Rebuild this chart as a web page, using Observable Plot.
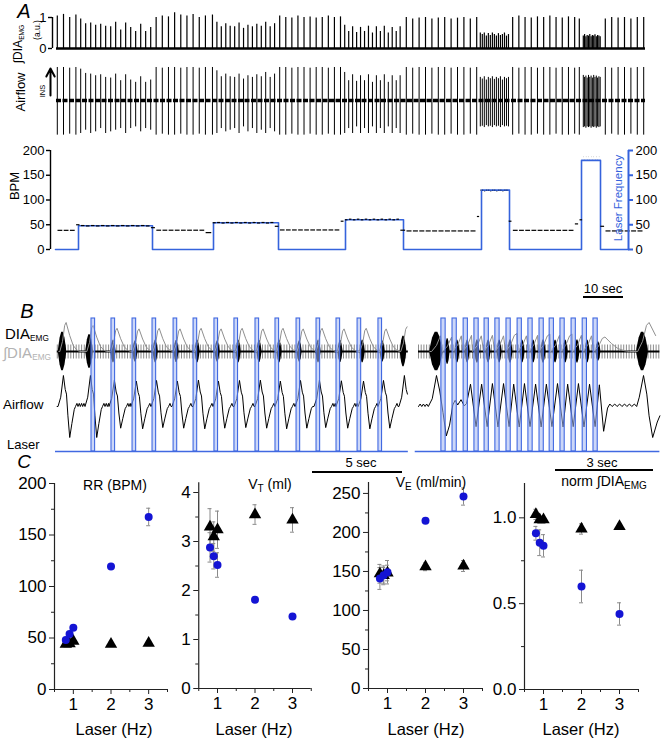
<!DOCTYPE html>
<html>
<head>
<meta charset="utf-8">
<script src="https://cdn.jsdelivr.net/npm/d3@7"></script>
<script src="https://cdn.jsdelivr.net/npm/@observablehq/plot@0.6"></script>
<style>
html,body{margin:0;padding:0;background:#fff;}
#fig{position:relative;width:662px;height:740px;overflow:hidden;background:#fff;font-family:'Liberation Sans',Arial,Helvetica,sans-serif;}
#fig sub{vertical-align:baseline;position:relative;top:0.3em;font-size:0.55em;}
</style>
</head>
<body>
<div id="fig"></div>
<script>
// ================= DATA =================
// ---- Panel A: breath-by-breath events (time in s) ----
const breathTimesA = [
  0.45, 2.0, 3.55, 5.1,
  6.3, 7.54, 8.8, 10.04, 11.3, 12.54, 13.8, 15.04, 16.3, 17.54, 18.8, 20.04, 21.3, 22.54, 23.8,
  25.16, 26.7, 28.24, 29.78, 31.32, 32.86, 34.4, 35.94, 37.48, 39.24,
  40.35, 41.45, 42.57, 43.67, 44.79, 45.89, 47.01, 48.11, 49.23, 50.33, 51.45, 52.55, 53.67, 54.77,
  56.05, 57.57, 59.09, 60.61, 62.13, 63.65, 65.17, 66.69, 68.21, 69.73, 71.25,
  72.3, 73.3, 74.28, 75.28, 76.26, 77.26, 78.24, 79.24, 80.22, 81.22, 82.2, 83.2, 84.18, 85.18, 86.16,
  87.7, 89.3, 90.9, 92.5, 94.1, 95.7, 97.3, 98.9, 100.5, 102.1, 103.7, 105.3,
  106.2, 106.7, 107.2, 107.71, 108.21, 108.71, 109.22, 109.72, 110.22, 110.73, 111.23, 111.73, 112.24, 112.74, 113.24,
  114.29, 115.84, 117.39, 118.94, 120.49, 122.04, 123.59, 125.14, 126.69, 128.24, 129.79, 130.95,
  131.95, 132.27, 132.6, 132.92, 133.25, 133.57, 133.9, 134.22, 134.55, 134.87, 135.2, 135.52, 135.85, 136.17,
  137.45, 139.05, 140.65, 142.25, 143.85, 145.45, 147.05
];
const emgPeakA = [
  1.05, 1.1, 1.0, 1.08,
  0.95, 0.8, 0.82, 0.75, 0.78, 0.72, 0.7, 0.85, 0.6, 0.82, 0.68, 0.55, 0.78, 0.55, 0.68,
  1.0, 1.05, 1.02, 1.15, 1.08, 1.05, 1.1, 1.0, 1.05, 1.08,
  0.85, 0.7, 0.8, 0.72, 0.7, 0.82, 0.65, 0.75, 0.7, 0.78, 0.72, 0.85, 0.7, 0.8,
  1.05, 1.0, 0.98, 1.05, 1.0, 1.02, 0.98, 1.0, 1.05, 1.0, 1.02,
  0.75, 0.55, 0.7, 0.52, 0.68, 0.55, 0.72, 0.5, 0.7, 0.55, 0.72, 0.5, 0.68, 0.55, 0.7,
  1.0, 0.95, 0.98, 1.0, 0.95, 0.98, 1.0, 0.95, 0.98, 1.0, 0.95, 1.0,
  0.5, 0.45, 0.5, 0.4, 0.48, 0.42, 0.5, 0.45, 0.4, 0.48, 0.42, 0.45, 0.5, 0.4, 0.45,
  1.0, 1.05, 1.0, 0.98, 1.02, 1.0, 1.05, 1.0, 0.98, 1.02, 1.0, 0.95,
  0.4, 0.45, 0.38, 0.42, 0.4, 0.45, 0.38, 0.42, 0.4, 0.44, 0.38, 0.42, 0.4, 0.38,
  0.95, 1.0, 0.98, 1.0, 0.95, 1.0, 1.0
];
const flowInA = [
  1.0, 1.0, 0.98, 1.0,
  0.95, 0.82, 0.8, 0.75, 0.78, 0.7, 0.68, 0.8, 0.6, 0.78, 0.62, 0.55, 0.72, 0.55, 0.62,
  1.0, 0.98, 1.0, 1.0, 0.98, 1.0, 1.0, 0.98, 1.0, 1.0,
  0.9, 0.72, 0.8, 0.72, 0.7, 0.8, 0.65, 0.75, 0.7, 0.78, 0.72, 0.85, 0.7, 0.8,
  1.0, 1.0, 0.98, 1.0, 1.0, 0.98, 1.0, 1.0, 0.98, 1.0, 1.0,
  0.85, 0.6, 0.78, 0.58, 0.75, 0.6, 0.78, 0.55, 0.75, 0.6, 0.78, 0.55, 0.75, 0.6, 0.75,
  1.0, 0.98, 1.0, 1.0, 0.98, 1.0, 1.0, 0.98, 1.0, 1.0, 0.98, 1.0,
  0.7, 0.65, 0.72, 0.62, 0.7, 0.66, 0.72, 0.64, 0.7, 0.66, 0.72, 0.62, 0.7, 0.66, 0.7,
  1.0, 0.98, 1.0, 1.0, 0.98, 1.0, 1.0, 0.98, 1.0, 1.0, 0.98, 1.0,
  0.76, 0.7, 0.74, 0.68, 0.76, 0.7, 0.74, 0.68, 0.76, 0.7, 0.74, 0.68, 0.72, 0.7,
  1.0, 0.98, 1.0, 1.0, 0.98, 1.0, 1.0
];
const flowOutA = [
  -1.05, -1.05, -1.02, -1.05,
  -1.0, -0.9, -1.0, -0.95, -0.85, -1.0, -0.95, -0.9, -0.85, -1.0, -0.85, -0.8, -0.95, -0.85, -0.9,
  -1.05, -1.02, -1.05, -1.05, -1.02, -1.05, -1.05, -1.02, -1.05, -1.05,
  -1.0, -0.85, -0.95, -0.9, -0.85, -1.0, -0.8, -0.95, -0.85, -1.0, -0.9, -1.0, -0.85, -0.95,
  -1.05, -1.05, -1.02, -1.05, -1.05, -1.02, -1.05, -1.05, -1.02, -1.05, -1.05,
  -1.0, -0.85, -1.0, -0.8, -1.0, -0.85, -1.0, -0.8, -1.0, -0.85, -1.0, -0.8, -1.0, -0.85, -1.0,
  -1.05, -1.02, -1.05, -1.05, -1.02, -1.05, -1.05, -1.02, -1.05, -1.05, -1.02, -1.05,
  -0.8, -0.78, -0.82, -0.76, -0.8, -0.78, -0.82, -0.76, -0.8, -0.78, -0.82, -0.76, -0.8, -0.78, -0.8,
  -1.05, -1.02, -1.05, -1.05, -1.02, -1.05, -1.05, -1.02, -1.05, -1.05, -1.02, -1.05,
  -0.82, -0.8, -0.84, -0.8, -0.82, -0.8, -0.84, -0.8, -0.82, -0.8, -0.84, -0.8, -0.82, -0.8,
  -1.05, -1.02, -1.05, -1.05, -1.02, -1.05, -1.05
];
// laser stimulation epochs: [start s, end s, Hz]
const laserEpochsA = [[5.75, 24.25, 0.8], [39.5, 55.75, 0.9], [72.5, 87, 1], [106.5, 113.5, 2], [131.5, 136.25, 3]];
const recordA = [0.25, 147.5];       // trace start/end (s)
const laserTraceEndA = 143.25;        // where blue trace meets the right axis
const bpmTicks = [0, 50, 100, 150, 200];
const emgScaleTicks = [0, 1];

// ---- Panel B ----
const pulsesL = [2.0, 3.11, 4.28, 5.39, 6.56, 7.67, 8.83, 9.94, 11.11, 12.22, 13.39, 14.5, 15.61, 16.78, 17.94];
const burstsL = [0.39, 1.89, 3.22, 4.44, 5.56, 6.72, 7.89, 9.0, 10.17, 11.33, 12.44, 13.56, 14.61, 15.83, 17.06, 18.17, 19.33];
const burstAmpL = [1.2, 1.05, 0.7, 0.65, 0.7, 0.68, 0.7, 0.65, 0.7, 0.68, 0.7, 0.65, 0.7, 0.68, 0.7, 0.65, 0.95];
const burstWL = [0.45, 0.4, 0.28, 0.28, 0.28, 0.28, 0.28, 0.28, 0.28, 0.28, 0.28, 0.28, 0.28, 0.28, 0.28, 0.28, 0.35];
const integAmpL = [1.0, 0.9, 0.8, 0.78, 0.8, 0.78, 0.8, 0.78, 0.8, 0.78, 0.8, 0.78, 0.8, 0.78, 0.8, 0.78, 0.85];
const flowUpL = [1.0, 1.0, 0.85, 0.82, 0.84, 0.82, 0.85, 0.82, 0.84, 0.85, 0.82, 0.84, 0.85, 0.83, 0.82, 0.84, 1.0];
const flowDnL = [1.0, 1.0, 0.7, 0.72, 0.68, 0.7, 0.72, 0.7, 0.68, 0.7, 0.72, 0.7, 0.68, 0.7, 0.72, 0.7, 0.95];
const recordL = [0.1, 19.6];

const pulsesR = [0.70, 1.04, 1.38, 1.71, 2.02, 2.35, 2.69, 3.03, 3.36, 3.70, 4.01, 4.34, 4.68, 5.02, 5.35];
const burstsR = [0.55, 0.89, 1.19, 1.5, 1.8, 2.14, 2.48, 2.81, 3.18, 3.52, 3.82, 4.19, 4.5, 4.86, 5.17, 5.5, 6.85];
const burstAmpR = [1.2, 0.8, 0.7, 0.7, 0.72, 0.7, 0.7, 0.72, 0.7, 0.7, 0.72, 0.7, 0.7, 0.72, 0.7, 0.6, 1.2];
const burstWR = [0.4, 0.15, 0.15, 0.15, 0.15, 0.15, 0.15, 0.15, 0.15, 0.15, 0.15, 0.15, 0.15, 0.15, 0.15, 0.15, 0.35];
const integAmpR = [0.6, 0.55, 0.6, 0.62, 0.6, 0.62, 0.6, 0.62, 0.6, 0.62, 0.6, 0.62, 0.6, 0.62, 0.6, 0.5, 1.0];
const flowR = [
  [0, 0], [0.05, 0.08], [0.1, 0], [0.15, 0.08], [0.2, 0], [0.25, 0.08], [0.3, 0],
  [0.42, 0.25], [0.55, 1.0], [0.65, 0.5], [0.75, -0.2], [0.85, -0.95], [0.95, -0.6], [1.05, 0.05],
  [1.12, 0.2], [1.2, 0.05], [1.3, 0.22], [1.4, 0.02], [1.47, 0.1],
  [1.59, 0.72], [1.76, -0.65], [1.93, 0.72], [2.1, -0.65], [2.26, 0.74], [2.43, -0.66], [2.6, 0.74],
  [2.77, -0.65], [2.91, 0.72], [3.08, -0.66], [3.24, 0.74], [3.41, -0.65], [3.58, 0.72], [3.75, -0.66],
  [3.91, 0.72], [4.08, -0.65], [4.25, 0.74], [4.42, -0.66], [4.56, 0.72], [4.73, -0.65], [4.89, 0.74],
  [5.06, -0.66], [5.23, 0.72], [5.4, -0.65], [5.53, 0.7], [5.66, -0.8], [5.78, -0.05],
  [5.85, 0.08], [5.92, 0], [6.0, 0.08], [6.07, 0], [6.15, 0.08], [6.22, 0], [6.3, 0.08], [6.37, 0],
  [6.45, 0.08], [6.52, 0], [6.6, 0.08], [6.67, 0],
  [6.75, 0.3], [6.88, 1.0], [6.98, 0.4], [7.05, -0.3], [7.16, -1.0], [7.3, -0.5], [7.38, -0.3]
];
const recordR = [0.0, 7.38];

// waveform shapes (time offset s, normalized value)
const flowShape = [[-0.25, 0], [-0.1, 0.3], [0.05, 1.0], [0.15, 0.55], [0.22, 0.4], [0.3, -0.3], [0.4, -1.0], [0.52, -0.55], [0.65, -0.1], [0.72, 0]];
const rippleShape = [[0.8, 0.1], [0.86, 0], [0.93, 0.1], [0.99, 0], [1.06, 0.1], [1.12, 0], [1.19, 0.1], [1.25, 0], [1.32, 0.1], [1.38, 0], [1.45, 0.1], [1.51, 0], [1.58, 0.1], [1.64, 0]];
const integShape = [[-0.15, 0], [0.0, 0.35], [0.12, 0.9], [0.2, 1.0], [0.4, 0.55], [0.6, 0.2], [0.8, 0.05], [0.95, 0]];
const burstEnv = [[-0.5, 0.1], [-0.3, 0.7], [-0.1, 1], [0.1, 1], [0.3, 0.7], [0.5, 0.1]];

// ---- Panel C ----
const laserHz = [0.8, 0.9, 1, 2, 3];
const rrCtrl = [44, 44.5, 47, 44, 45],           rrCtrlErr = [2, 2, 2.5, 2, 2.5];
const rrLaser = [48, 54, 60, 119.5, 167.5],      rrLaserErr = [2, 2, 2, 1.5, 8.5];
const vtCtrl = [3.3, 3.1, 3.24, 3.55, 3.44],     vtCtrlErr = [0.37, 0.3, 0.38, 0.2, 0.25];
const vtLaser = [2.88, 2.7, 2.52, 1.81, 1.47],   vtLaserErr = [0.3, 0.26, 0.25, 0.05, 0.04];
const veCtrl = [147, 145, 148, 156, 157],        veCtrlErr = [12, 10, 10, 5, 7];
const veLaser = [141, 145, 149, 215, 246],       veLaserErr = [14, 12, 15, 3, 11];
const dnCtrl = [1.02, 0.99, 0.99, 0.935, 0.95],  dnCtrlErr = [0.03, 0.02, 0.02, 0.03, 0.015];
const dnLaser = [0.91, 0.855, 0.837, 0.60, 0.44], dnLaserErr = [0.04, 0.075, 0.065, 0.095, 0.065];
const xTicksC = [1, 2, 3], xMinorC = [0.5, 1.5, 2.5, 3.5];

// ================= STYLE =================
const FONT = "'Liberation Sans', Arial, Helvetica, sans-serif";
const BLUE_A = "#3563dc", BLUE_B = "#4169e1", FILL_B = "#a3b6f2", DOT_BLUE = "#1414d4", ERR = "#8a8a8a", AXIS = "#222";
const CH = {laserBase: 4, laserTop: 137, flow: 49, emg: 104};   // channel baselines in panel B (display units)
const G = {flow: 31, emg: 16, integ: 29};                         // channel gains
const baseStyle = {background: "transparent", overflow: "visible", fontFamily: FONT, color: "#000"};
const fig = document.getElementById("fig");

function place(el, left, top) {
  el.style.position = "absolute"; el.style.left = left + "px"; el.style.top = top + "px";
  fig.appendChild(el); return el;
}
function lab(html, x, y, size, o = {}) {
  const d = document.createElement("div");
  d.innerHTML = html;
  const tx = o.anchor === "start" ? "0" : o.anchor === "end" ? "-100%" : "-50%";
  d.style.cssText = `position:absolute;left:${x}px;top:${y}px;font-size:${size}px;font-family:${FONT};` +
    `white-space:nowrap;line-height:1;color:${o.color || "#000"};font-style:${o.italic ? "italic" : "normal"};` +
    `transform:translate(${tx},-50%) rotate(${o.rot || 0}deg);`;
  fig.appendChild(d);
}
function bar(x1, x2, y, w = 2) {
  const d = document.createElement("div");
  d.style.cssText = `position:absolute;left:${x1}px;top:${y - w / 2}px;width:${x2 - x1}px;height:${w}px;background:#000;`;
  fig.appendChild(d);
}
const intFmt = d => String(d), decFmt = d => d.toFixed(1);

// ================= PANEL A =================
const breathsA = breathTimesA.map((t, i) => ({t, emg: emgPeakA[i], fin: flowInA[i], fout: flowOutA[i]}));
const xA = {domain: [-0.75, 147.5], axis: null};

place(Plot.plot({
  width: 662, height: 50, marginLeft: 52, marginRight: 17, marginTop: 0, marginBottom: 0,
  x: xA, y: {domain: [-0.226, 1.387]},
  style: {...baseStyle, fontSize: "13px"},
  marks: [
    Plot.ruleY([0], {x1: recordA[0], x2: recordA[1], strokeWidth: 2.4}),
    Plot.ruleX(breathsA, {x: "t", y1: 0, y2: "emg", strokeWidth: 1.2}),
    Plot.ruleX([-0.75], {y1: 0, y2: 1, strokeWidth: 1.4}),
    Plot.axisY({ticks: emgScaleTicks, anchor: "left", tickSize: 4, tickPadding: 2, label: null, tickFormat: intFmt, strokeWidth: 1.4})
  ]
}), 0, 5);

place(Plot.plot({
  width: 662, height: 80, marginLeft: 52, marginRight: 17, marginTop: 0, marginBottom: 0,
  x: xA, y: {domain: [-1.212, 1.212], axis: null},
  style: baseStyle,
  marks: [
    Plot.ruleX(breathsA, {x: "t", y1: "fout", y2: "fin", strokeWidth: 1}),
    Plot.ruleY([0], {x1: recordA[0], x2: recordA[1], strokeWidth: 3.4, strokeDasharray: "5,1.5"}),
    Plot.arrow([{x1: -1.25, y1: 0.15, x2: -1.25, y2: 0.97}], {x1: "x1", y1: "y1", x2: "x2", y2: "y2", strokeWidth: 2, headLength: 7, headAngle: 55})
  ]
}), 0, 60);

// BPM panel
const laserTraceA = [{t: 0, bpm: 0}];
laserEpochsA.forEach(([s, e, hz]) => { laserTraceA.push({t: s, bpm: hz * 60}, {t: e, bpm: 0}); });
laserTraceA.push({t: laserTraceEndA, bpm: 0});
const bpmSegs = breathTimesA.slice(0, -1).map((t, i) => ({t1: t, t2: breathTimesA[i + 1], bpm: 60 / (breathTimesA[i + 1] - t)}));

place(Plot.plot({
  width: 662, height: 120, marginLeft: 50, marginRight: 17, marginTop: 10, marginBottom: 11,
  x: {domain: [-1.25, 147.5], axis: null}, y: {domain: [0, 200]},
  style: {...baseStyle, fontSize: "13px"},
  marks: [
    Plot.ruleX([-1.25], {strokeWidth: 1.4}),
    Plot.axisY({ticks: bpmTicks, anchor: "left", tickSize: 4, tickPadding: 2, label: null, tickFormat: intFmt, strokeWidth: 1.4}),
    Plot.line(laserTraceA, {x: "t", y: "bpm", curve: "step-after", stroke: BLUE_A, strokeWidth: 1.6}),
    Plot.ruleY(bpmSegs, {x1: "t1", x2: "t2", y: "bpm", strokeWidth: 1.2, insetLeft: 0.7, insetRight: 0.7}),
    Plot.ruleX([laserTraceEndA], {stroke: BLUE_A, strokeWidth: 2}),
    Plot.ruleY(bpmTicks, {x1: laserTraceEndA, x2: laserTraceEndA, y: d => d, insetRight: -5, stroke: BLUE_A, strokeWidth: 2}),
    Plot.text(bpmTicks, {x: laserTraceEndA, y: d => d, text: d => String(d), dx: 7, textAnchor: "start", fontSize: 13, fill: "#000"})
  ]
}), 0, 140);

lab("A", 24, 11, 20, {italic: true});
lab("∫DIA<sub>EMG</sub>", 18, 44, 12, {rot: -90});
lab("(a.u.)", 37, 30, 8.5, {rot: -90});
lab("Airflow", 20, 92, 13, {rot: -90});
lab("INS", 43, 91, 7.5, {rot: -90});
lab("BPM", 14, 186, 13, {rot: -90});
lab("Laser Frequency", 619, 198, 11.5, {rot: -90, color: BLUE_A});
lab("10 sec", 603, 288, 13);
bar(583, 623, 297);   // 10 s at 4 px/s

// ================= PANEL B =================
function eventTrace(times, shape, up, dn, tail, tEnd) {
  const pts = [{t: times[0] + shape[0][0] - 0.05, v: 0}];
  times.forEach((t0, i) => {
    const stop = i + 1 < times.length ? times[i + 1] + shape[0][0] : tEnd;
    for (const [dt, v] of shape) {
      const t = t0 + dt;
      if (t > pts[pts.length - 1].t && t <= stop && t <= tEnd) pts.push({t, v: v >= 0 ? v * up[i] : v * dn[i]});
    }
    for (const [dt, v] of tail) {
      const t = t0 + dt;
      if (t > pts[pts.length - 1].t && t < stop && t <= tEnd) pts.push({t, v});
    }
  });
  return pts;
}
function burstPoints(times, amps, widths) {
  return times.flatMap((t, i) => burstEnv.map(([f, e]) => ({id: i, t: t + f * widths[i],
    lo: CH.emg - G.emg * amps[i] * e, hi: CH.emg + G.emg * amps[i] * e})));
}
function bSegment({left, width, mL, mR, domain, rec, bursts, amps, widths, integAmp, flow, pulses, pulseW}) {
  return place(Plot.plot({
    width, height: 145, marginLeft: mL, marginRight: mR, marginTop: 0, marginBottom: 0,
    x: {domain, axis: null}, y: {domain: [0, 145], axis: null},
    style: baseStyle,
    marks: [
      Plot.ruleY([CH.emg], {x1: rec[0], x2: rec[1], stroke: "#8c8c8c", strokeWidth: 14, strokeDasharray: "1,1.7"}),
      Plot.ruleY([CH.emg], {x1: rec[0], x2: rec[1], stroke: "#000", strokeWidth: 2.2}),
      Plot.areaY(burstPoints(bursts, amps, widths), {x: "t", y1: "lo", y2: "hi", z: "id", fill: "#000"}),
      Plot.line(eventTrace(bursts, integShape, integAmp, integAmp, [], rec[1]), {x: "t", y: d => CH.emg + G.integ * d.v, stroke: "#8f8f8f", strokeWidth: 1}),
      Plot.line(flow, {x: "t", y: d => CH.flow + G.flow * d.v, stroke: "#000", strokeWidth: 1}),
      Plot.rect(pulses, {x1: d => d, x2: d => d + pulseW, y1: CH.laserBase, y2: CH.laserTop, fill: FILL_B, fillOpacity: 0.55, stroke: BLUE_B, strokeWidth: 1.1}),
      Plot.ruleY([CH.laserBase], {x1: rec[0] - 0.1, x2: rec[1], stroke: BLUE_B, strokeWidth: 1.3})
    ]
  }), left, 310);
}
const flowL = eventTrace(burstsL, flowShape, flowUpL, flowDnL, rippleShape, recordL[1]);
bSegment({left: 0, width: 420, mL: 55, mR: 10, domain: [0, 19.72], rec: recordL,
  bursts: burstsL, amps: burstAmpL, widths: burstWL, integAmp: integAmpL, flow: flowL, pulses: pulsesL, pulseW: 0.2});
bSegment({left: 410, width: 252, mL: 8, mR: 0, domain: [0, 7.46], rec: recordR,
  bursts: burstsR, amps: burstAmpR, widths: burstWR, integAmp: integAmpR,
  flow: flowR.map(([t, v]) => ({t, v})), pulses: pulsesR, pulseW: 0.13});

lab("B", 27, 311, 20, {italic: true});
lab("DIA<sub>EMG</sub>", 5, 334, 15, {anchor: "start"});
lab("∫DIA<sub>EMG</sub>", 3, 353, 15, {anchor: "start", color: "#b3b3b3"});
lab("Airflow", 3, 405, 13.5, {anchor: "start"});
lab("Laser", 7, 444, 13, {anchor: "start"});
lab("5 sec", 361, 462, 13);
bar(312, 402, 472);   // 5 s at 18 px/s
lab("3 sec", 602, 462, 13);
bar(555, 653, 470);   // 3 s at 32.7 px/s

// ================= PANEL C =================
function scatter({left, width, mL, mR, mT, mB, yDomain, yTicks, yMinor, fmt, ctrl, ctrlErr, las, lasErr}) {
  const c = laserHz.map((x, i) => ({x, y: ctrl[i], e: ctrlErr[i]}));
  const l = laserHz.map((x, i) => ({x, y: las[i], e: lasErr[i]}));
  const both = c.concat(l);
  return place(Plot.plot({
    width, height: 250, marginLeft: mL, marginRight: mR, marginTop: mT, marginBottom: mB,
    x: {domain: [0.5, 3.5]}, y: {domain: yDomain},
    style: {...baseStyle, fontSize: "17px", color: AXIS},
    marks: [
      Plot.ruleX([0.5], {stroke: AXIS, strokeWidth: 1.2}),
      Plot.ruleY([yDomain[0]], {stroke: AXIS, strokeWidth: 1.2}),
      Plot.axisX({ticks: xTicksC, anchor: "bottom", tickSize: 5, tickPadding: 3, label: null, tickFormat: intFmt, fill: "#000"}),
      Plot.axisX({ticks: xMinorC, anchor: "bottom", tickSize: 3, label: null, tickFormat: () => ""}),
      Plot.axisY({ticks: yTicks, anchor: "left", tickSize: 5, tickPadding: 3, label: null, tickFormat: fmt, fill: "#000"}),
      Plot.axisY({ticks: yMinor, anchor: "left", tickSize: 3, label: null, tickFormat: () => ""}),
      Plot.ruleX(both, {x: "x", y1: d => d.y - d.e, y2: d => d.y + d.e, stroke: ERR, strokeWidth: 1}),
      Plot.ruleY(both, {x1: "x", x2: "x", y: d => d.y + d.e, insetLeft: -2, insetRight: -2, stroke: ERR, strokeWidth: 1}),
      Plot.ruleY(both, {x1: "x", x2: "x", y: d => d.y - d.e, insetLeft: -2, insetRight: -2, stroke: ERR, strokeWidth: 1}),
      Plot.dot(c, {x: "x", y: "y", symbol: "triangle", fill: "#000", r: 4.6}),
      Plot.dot(l, {x: "x", y: "y", fill: DOT_BLUE, r: 4})
    ]
  }), left, 470);
}
scatter({left: 0, width: 172, mL: 54, mR: 5, mT: 13, mB: 31, yDomain: [0, 200],
  yTicks: [0, 50, 100, 150, 200], yMinor: [25, 75, 125, 175], fmt: intFmt,
  ctrl: rrCtrl, ctrlErr: rrCtrlErr, las: rrLaser, lasErr: rrLaserErr});
scatter({left: 150, width: 165, mL: 48.25, mR: 4.25, mT: 12.2, mB: 32, yDomain: [0, 4.2],
  yTicks: [0, 1, 2, 3, 4], yMinor: [0.5, 1.5, 2.5, 3.5], fmt: intFmt,
  ctrl: vtCtrl, ctrlErr: vtCtrlErr, las: vtLaser, lasErr: vtLaserErr});
scatter({left: 320, width: 166, mL: 48, mR: 4, mT: 12, mB: 32, yDomain: [0, 264],
  yTicks: [0, 50, 100, 150, 200, 250], yMinor: [25, 75, 125, 175, 225], fmt: intFmt,
  ctrl: veCtrl, ctrlErr: veCtrlErr, las: veLaser, lasErr: veLaserErr});
scatter({left: 480, width: 162, mL: 44, mR: 4, mT: 13, mB: 31, yDomain: [0, 1.2],
  yTicks: [0, 0.5, 1.0], yMinor: [0.25, 0.75], fmt: decFmt,
  ctrl: dnCtrl, ctrlErr: dnCtrlErr, las: dnLaser, lasErr: dnLaserErr});

lab("C", 24, 461, 19, {italic: true});
lab("RR (BPM)", 115, 485, 14);
lab("V<sub style='font-size:10px'>T</sub> (ml)", 270, 484, 14);
lab("V<sub style='font-size:10px'>E</sub> (ml/min)", 431, 482, 14);
lab("norm ∫DIA<sub style='font-size:10px'>EMG</sub>", 604, 481, 14);
[114, 254, 426, 581].forEach(x => lab("Laser (Hz)", x, 729, 16.5));
</script>
</body>
</html>
